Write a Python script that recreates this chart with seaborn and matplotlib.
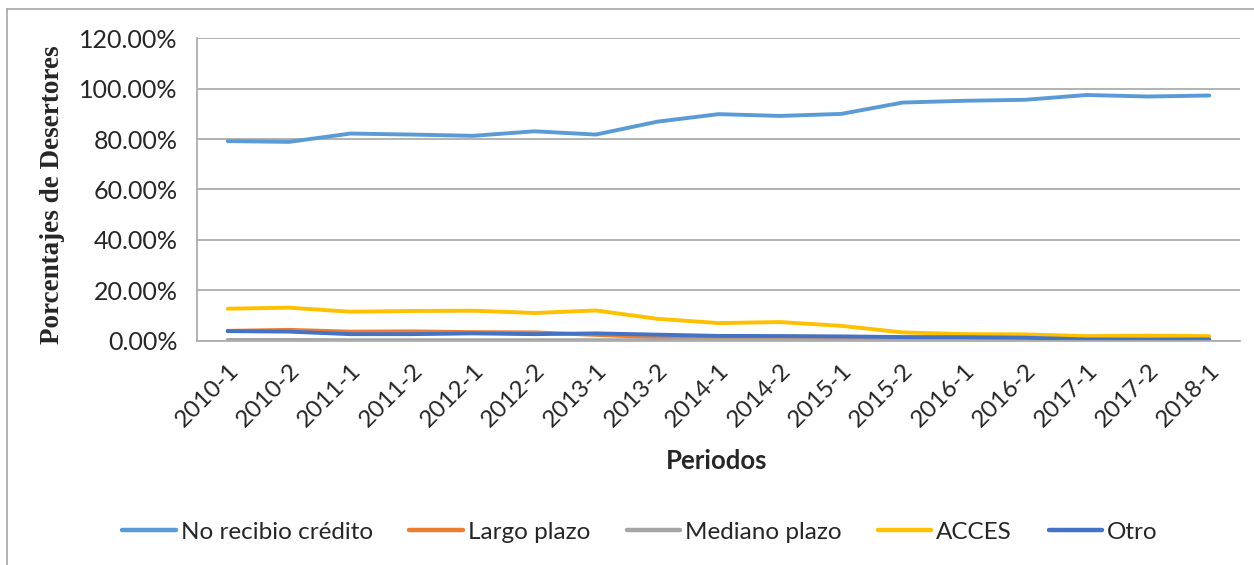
import numpy as np
import pandas as pd
import matplotlib
matplotlib.use("Agg")
import matplotlib.pyplot as plt
import seaborn as sns
from matplotlib.lines import Line2D
from matplotlib.ticker import FixedLocator, PercentFormatter

# --- DATA (percent of deserters per period) ---
periodos = ['2010-1', '2010-2', '2011-1', '2011-2', '2012-1', '2012-2', '2013-1', '2013-2',
            '2014-1', '2014-2', '2015-1', '2015-2', '2016-1', '2016-2', '2017-1', '2017-2', '2018-1']
no_recibio = [79.2, 78.9, 82.2, 81.8, 81.3, 83.1, 81.8, 86.9, 89.9, 89.2, 90.0, 94.5, 95.2, 95.6, 97.5, 96.9, 97.3]
largo_plazo = [3.9, 4.3, 3.6, 3.7, 3.4, 3.3, 2.3, 1.4, 1.1, 0.9, 0.9, 0.8, 0.7, 0.6, 0.4, 0.3, 0.3]
mediano_plazo = [0.3, 0.3, 0.2, 0.2, 0.2, 0.2, 0.2, 0.2, 0.2, 0.2, 0.1, 0.1, 0.1, 0.1, 0.1, 0.1, 0.1]
acces = [12.7, 13.1, 11.5, 11.8, 11.9, 11.0, 12.0, 8.7, 7.0, 7.4, 5.9, 3.3, 2.6, 2.5, 1.8, 2.0, 1.8]
otro = [3.8, 3.6, 2.6, 2.6, 2.9, 2.6, 2.9, 2.4, 1.9, 1.85, 1.7, 1.45, 1.4, 1.2, 0.5, 0.5, 0.5]

series = ['No recibio crédito', 'Largo plazo', 'Mediano plazo', 'ACCES', 'Otro']
colores = ['#5B9BD5', '#ED7D31', '#A5A5A5', '#FFC000', '#4472C4']

df = pd.DataFrame({'Periodo': periodos,
                   'No recibio crédito': no_recibio,
                   'Largo plazo': largo_plazo,
                   'Mediano plazo': mediano_plazo,
                   'ACCES': acces,
                   'Otro': otro})
df['x'] = np.arange(len(periodos))
largo = df.melt(id_vars=['Periodo', 'x'], value_vars=series, var_name='Serie', value_name='Pct')

sns.set_style('white')
plt.rcParams['font.family'] = ['Lato', 'DejaVu Sans']

fig = plt.figure(figsize=(12.54, 5.65), dpi=100)
ax = fig.add_axes([197 / 1254, 1 - 340.7 / 565, (1240 - 197) / 1254, (340.7 - 38.3) / 565])

sns.lineplot(data=largo, x='x', y='Pct', hue='Serie', hue_order=series,
             palette=colores, linewidth=2.8, ax=ax, legend=False, sort=False)

grid_c = '#ADADAD'
ax.set_xlim(-0.5, len(periodos) - 0.5)
ax.set_ylim(0, 120)
ax.yaxis.set_major_locator(FixedLocator(np.arange(0, 121, 20)))
ax.yaxis.set_major_formatter(PercentFormatter(decimals=2))
ax.grid(axis='y', color=grid_c, linewidth=1.3)
ax.set_axisbelow(True)

# category axis: ticks between categories, labels at centers
ax.xaxis.set_major_locator(FixedLocator(np.arange(-0.5, len(periodos), 1)))
ax.xaxis.set_major_formatter(plt.NullFormatter())
ax.xaxis.set_minor_locator(FixedLocator(np.arange(len(periodos))))
ax.set_xticklabels(periodos, minor=True, rotation=45, ha='right', va='top',
                   rotation_mode='anchor', fontsize=17.5)
ax.tick_params(axis='x', which='major', length=8, width=1.3, color=grid_c, direction='out')
ax.tick_params(axis='x', which='minor', length=0, pad=14)
ax.tick_params(axis='y', length=8, width=1.3, color=grid_c, labelsize=18, pad=6)

for s in ['top', 'right']:
    ax.spines[s].set_visible(False)
ax.spines['left'].set_color(grid_c)
ax.spines['left'].set_linewidth(1.3)
ax.spines['bottom'].set_color(grid_c)
ax.spines['bottom'].set_linewidth(1.3)

ax.set_xlabel('Periodos', fontsize=18.5, fontweight='bold', va='center')
ax.xaxis.set_label_coords(0.4986, -0.398)
ax.set_ylabel('Porcentajes de Desertores', fontsize=19.5, fontweight='bold',
              family=['Liberation Serif'], va='center')
ax.yaxis.set_label_coords(-0.139, 0.482)

handles = [Line2D([0], [0], color=c, linewidth=3.2) for c in colores]
fig.legend(handles, series, loc='center', bbox_to_anchor=(640 / 1254, 1 - 532 / 565), ncol=5,
           frameon=False, fontsize=17.5, handlelength=2.2, handletextpad=0.2,
           columnspacing=1.5)

# outer chart border (top and left visible)
fig.add_artist(Line2D([7 / 1254, 7 / 1254], [0, 1 - 9 / 565], transform=fig.transFigure,
                      color='#A6A6A6', linewidth=1.2))
fig.add_artist(Line2D([7 / 1254, 1], [1 - 9 / 565, 1 - 9 / 565], transform=fig.transFigure,
                      color='#A6A6A6', linewidth=1.2))

fig.savefig('out.png', dpi=100)
